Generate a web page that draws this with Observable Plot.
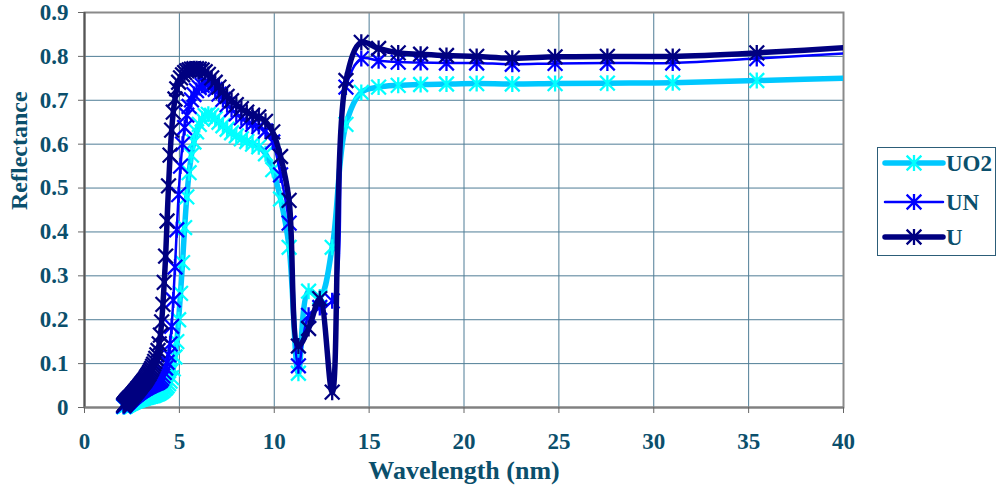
<!DOCTYPE html>
<html><head><meta charset="utf-8">
<script src="https://cdn.jsdelivr.net/npm/d3@7"></script>
<script src="https://cdn.jsdelivr.net/npm/@observablehq/plot@0.6"></script>
<style>
body{margin:0;background:#fff}
#wrap{position:relative;width:997px;height:493px;overflow:hidden}
#legend{position:absolute;left:877px;top:147px}
</style></head><body><div id="wrap"></div>
<script>
// Wavelength (nm) of each sample
const wavelength = [
2.067,2.084,2.102,2.120,2.138,2.157,2.175,2.195,2.214,2.234,
2.255,2.275,2.296,2.318,2.340,2.362,2.385,2.408,2.431,2.455,
2.480,2.505,2.531,2.557,2.583,2.611,2.638,2.667,2.696,2.725,
2.756,2.787,2.818,2.851,2.884,2.918,2.952,2.988,3.024,3.062,
3.100,3.139,3.179,3.221,3.263,3.307,3.351,3.397,3.444,3.493,
3.543,3.594,3.647,3.701,3.758,3.815,3.875,3.937,4.000,4.066,
4.133,4.203,4.276,4.351,4.429,4.509,4.593,4.679,4.769,4.863,
4.960,5.061,5.167,5.277,5.391,5.511,5.636,5.767,5.905,6.049,
6.200,6.359,6.526,6.703,6.889,7.086,7.294,7.515,7.750,8.000,
8.267,8.552,8.857,9.185,9.538,9.920,10.333,10.783,11.273,11.810,
12.400,13.053,13.778,14.588,15.500,16.533,17.714,19.077,20.667,22.545,
24.800,27.556,31.000,35.429,41.333];

const uo2 = [
0.002,0.002,0.003,0.003,0.004,0.004,0.005,0.005,0.006,0.006,
0.007,0.007,0.008,0.008,0.009,0.009,0.010,0.010,0.011,0.011,
0.012,0.012,0.013,0.013,0.014,0.014,0.015,0.015,0.016,0.016,
0.017,0.017,0.018,0.018,0.019,0.019,0.020,0.020,0.021,0.021,
0.022,0.022,0.023,0.023,0.024,0.024,0.025,0.025,0.026,0.026,
0.027,0.027,0.028,0.029,0.030,0.031,0.032,0.033,0.035,0.037,
0.039,0.042,0.045,0.049,0.054,0.060,0.068,0.088,0.115,0.150,
0.200,0.260,0.330,0.410,0.480,0.535,0.575,0.605,0.628,0.645,
0.657,0.665,0.668,0.665,0.658,0.650,0.642,0.634,0.626,0.619,
0.612,0.606,0.600,0.594,0.578,0.542,0.475,0.365,0.078,0.265,
0.252,0.365,0.645,0.718,0.730,0.734,0.736,0.737,0.738,0.737,
0.738,0.739,0.740,0.745,0.752];

const un = [
0.003,0.004,0.005,0.006,0.007,0.008,0.009,0.010,0.011,0.012,
0.012,0.013,0.014,0.015,0.016,0.017,0.018,0.019,0.020,0.021,
0.022,0.023,0.024,0.025,0.026,0.027,0.028,0.029,0.030,0.031,
0.032,0.033,0.034,0.035,0.036,0.037,0.038,0.039,0.040,0.041,
0.042,0.043,0.044,0.045,0.046,0.047,0.048,0.049,0.050,0.051,
0.052,0.053,0.054,0.055,0.056,0.057,0.058,0.060,0.062,0.066,
0.072,0.080,0.090,0.103,0.120,0.145,0.185,0.245,0.320,0.405,
0.485,0.550,0.600,0.638,0.666,0.686,0.701,0.713,0.722,0.729,
0.734,0.737,0.737,0.733,0.725,0.714,0.702,0.690,0.679,0.669,
0.660,0.652,0.645,0.640,0.630,0.605,0.530,0.420,0.095,0.210,
0.228,0.243,0.730,0.795,0.790,0.787,0.786,0.785,0.785,0.782,
0.784,0.785,0.785,0.795,0.810];

const u = [
0.005,0.006,0.007,0.008,0.009,0.010,0.011,0.012,0.013,0.014,
0.015,0.016,0.017,0.018,0.019,0.020,0.021,0.022,0.023,0.024,
0.025,0.026,0.028,0.029,0.030,0.032,0.033,0.035,0.036,0.038,
0.039,0.041,0.043,0.044,0.046,0.048,0.050,0.052,0.054,0.056,
0.058,0.060,0.062,0.065,0.068,0.071,0.074,0.077,0.081,0.085,
0.089,0.094,0.099,0.105,0.112,0.120,0.130,0.145,0.165,0.195,
0.235,0.285,0.345,0.425,0.505,0.575,0.632,0.673,0.703,0.726,
0.741,0.751,0.758,0.763,0.767,0.769,0.771,0.772,0.772,0.771,
0.769,0.765,0.759,0.751,0.741,0.730,0.719,0.709,0.699,0.690,
0.681,0.673,0.666,0.662,0.652,0.628,0.572,0.472,0.140,0.180,
0.248,0.035,0.745,0.832,0.818,0.808,0.805,0.802,0.800,0.796,
0.799,0.800,0.800,0.808,0.823];

const seriesNames = ["UO2", "UN", "U"];
const seriesValues = [uo2, un, u];
const lineColors = ["#00C8FF", "#0000FF", "#000080"];
const markerColors = ["#00FFFF", "#0000FF", "#000080"];
const lineWidths = [5.5, 2.5, 5.5];

const xTicks = [0, 5, 10, 15, 20, 25, 30, 35, 40];
const xTickLabels = ["0", "5", "10", "15", "20", "25", "30", "35", "40"];
const yTicks = [0, 0.1, 0.2, 0.3, 0.4, 0.5, 0.6, 0.7, 0.8, 0.9];
const yTickLabels = ["0", "0.1", "0.2", "0.3", "0.4", "0.5", "0.6", "0.7", "0.8", "0.9"];
const xTitle = "Wavelength (nm)";
const yTitle = "Reflectance";

const textColor = "#0b4f6c";
const gridColor = "#4f7d96";
const font = "'Liberation Serif', 'Times New Roman', serif";

// Excel-style star marker: an X plus a vertical bar
const starSymbol = {
  draw(context, size) {
    const r = Math.sqrt(size / Math.PI);
    const d = r * 0.92;
    context.moveTo(-d, -d); context.lineTo(d, d);
    context.moveTo(d, -d); context.lineTo(-d, d);
    context.moveTo(0, -r); context.lineTo(0, r);
  }
};

const seriesMarks = [];
seriesNames.forEach((name, s) => {
  const data = wavelength.map((w, i) => ({x: w, y: seriesValues[s][i], series: name}));
  seriesMarks.push(Plot.line(data, {x: "x", y: "y", stroke: lineColors[s], strokeWidth: lineWidths[s], curve: "catmull-rom", clip: true, strokeLinejoin: "round"}));
  seriesMarks.push(Plot.dot(data, {x: "x", y: "y", filter: d => d.x <= 40, symbol: starSymbol, r: 8, stroke: markerColors[s], strokeWidth: 2.3, fill: "none"}));
});

const chart = Plot.plot({
  width: 997, height: 493,
  marginLeft: 84, marginRight: 154, marginTop: 12, marginBottom: 86,
  x: {domain: [0, 40]},
  y: {domain: [0, 0.9]},
  style: {fontFamily: font, fontWeight: "bold", fontSize: "23px", color: textColor, background: "white"},
  marks: [
    Plot.gridX(xTicks, {stroke: gridColor, strokeOpacity: 1, strokeWidth: 1}),
    Plot.gridY(yTicks, {stroke: gridColor, strokeOpacity: 1, strokeWidth: 1}),
    Plot.frame({stroke: "#8a8a8a", strokeWidth: 2}),
    Plot.ruleX([0], {stroke: "#555", strokeWidth: 2}),
    Plot.ruleY([0], {stroke: "#808080", strokeWidth: 2}),
    Plot.axisX(xTicks, {tickSize: 6, tickPadding: 19, label: null, fontSize: 23, fill: textColor, stroke: "#666", tickFormat: (d, i) => xTickLabels[i]}),
    Plot.axisY(yTicks, {tickSize: 6, tickPadding: 10, label: null, fontSize: 23, fill: textColor, stroke: "#666", tickFormat: (d, i) => yTickLabels[i]}),
    Plot.text([xTitle], {frameAnchor: "bottom", dy: 71, fontSize: 26, fill: textColor, fontWeight: "bold"}),
    Plot.text([yTitle], {frameAnchor: "left", dx: -65, rotate: -90, fontSize: 24, fill: textColor, fontWeight: "bold"}),
    ...seriesMarks
  ]
});

const wrap = document.getElementById("wrap");
wrap.appendChild(chart);

// Legend
const lg = d3.create("svg").attr("id", "legend").attr("width", 120).attr("height", 110)
  .style("font-family", font).style("font-weight", "bold").style("font-size", "23px");
lg.append("rect").attr("x", 0.5).attr("y", 0.5).attr("width", 118).attr("height", 108)
  .attr("fill", "white").attr("stroke", "#2c5d78").attr("stroke-width", 1);
const rowY = [16, 55, 90];
seriesNames.forEach((name, s) => {
  const g = lg.append("g").attr("transform", `translate(0,${rowY[s]})`);
  g.append("line").attr("x1", 8).attr("x2", 66).attr("y1", 0).attr("y2", 0)
    .attr("stroke", lineColors[s]).attr("stroke-width", lineWidths[s]).attr("stroke-linecap", "round");
  const r = 8, d = r * 0.92;
  g.append("path").attr("d", `M${37-d},${-d}L${37+d},${d}M${37+d},${-d}L${37-d},${d}M37,${-r}L37,${r}`)
    .attr("stroke", markerColors[s]).attr("stroke-width", 2.3).attr("fill", "none");
  g.append("text").attr("x", 69).attr("y", 0).attr("dy", "0.35em").attr("fill", textColor).text(name);
});
wrap.appendChild(lg.node());
</script>
</body></html>
